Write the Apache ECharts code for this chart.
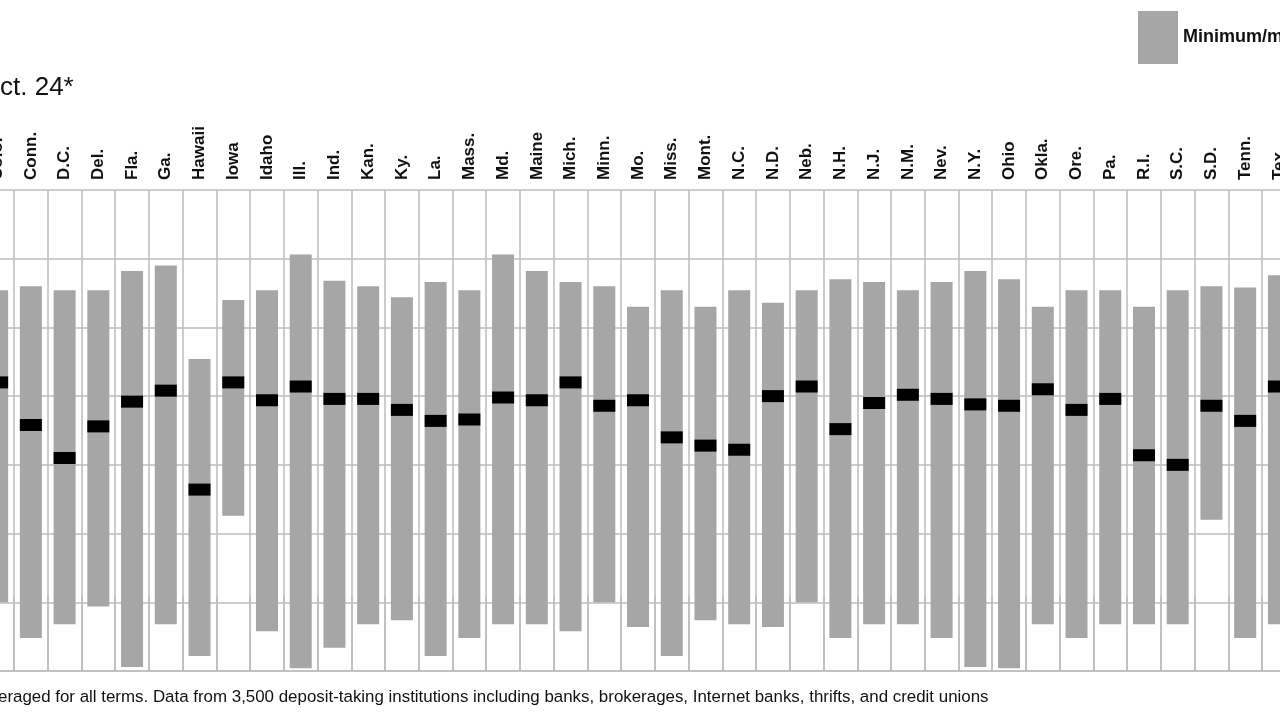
<!DOCTYPE html>
<html>
<head>
<meta charset="utf-8">
<script src="https://cdn.jsdelivr.net/npm/echarts@6/dist/echarts.min.js"></script>
<style>
html,body{margin:0;padding:0;background:#fff;overflow:hidden;width:1280px;height:720px;position:relative;}
#chart{position:absolute;left:-20px;top:0;width:1316px;height:720px;}
</style>
</head>
<body>
<div id="chart"></div>
<script>
const states = ['Colo.','Conn.','D.C.','Del.','Fla.','Ga.','Hawaii','Iowa','Idaho','Ill.','Ind.','Kan.','Ky.','La.','Mass.','Md.','Maine','Mich.','Minn.','Mo.','Miss.','Mont.','N.C.','N.D.','Neb.','N.H.','N.J.','N.M.','Nev.','N.Y.','Ohio','Okla.','Ore.','Pa.','R.I.','S.C.','S.D.','Tenn.','Tex.'];
const minRates = [0.50,0.24,0.34,0.47,0.03,0.34,0.11,1.13,0.29,0.02,0.17,0.34,0.37,0.11,0.24,0.34,0.34,0.29,0.50,0.32,0.11,0.37,0.34,0.32,0.50,0.24,0.34,0.34,0.24,0.03,0.02,0.34,0.24,0.34,0.34,0.34,1.10,0.24,0.34];
const maxRates = [2.77,2.80,2.77,2.77,2.91,2.95,2.27,2.70,2.77,3.03,2.84,2.80,2.72,2.83,2.77,3.03,2.91,2.83,2.80,2.65,2.77,2.65,2.77,2.68,2.77,2.85,2.83,2.77,2.83,2.91,2.85,2.65,2.77,2.77,2.65,2.77,2.80,2.79,2.88];
const avgRates = [2.10,1.79,1.55,1.78,1.96,2.04,1.32,2.10,1.97,2.07,1.98,1.98,1.90,1.82,1.83,1.99,1.97,2.10,1.93,1.97,1.70,1.64,1.61,2.00,2.07,1.76,1.95,2.01,1.98,1.94,1.93,2.05,1.90,1.98,1.57,1.50,1.93,1.82,2.07];
const yTicks = {min: 0, max: 3.5, interval: 0.5};
const titleText = 'ct. 24*';
const legendText = 'Minimum/maximum';
const noteText = 'eraged for all terms. Data from 3,500 deposit-taking institutions including banks, brokerages, Internet banks, thrifts, and credit unions';

const GRAY = '#a6a6a6';
const LINE = '#bdbdbd';
const FONT = '"Liberation Sans Narrow", "Liberation Sans", Arial, sans-serif';

const chart = echarts.init(document.getElementById('chart'), null, {renderer: 'canvas'});
const option = {
  animation: false,
  backgroundColor: '#ffffff',
  title: [
    {text: titleText, left: 20, top: 75, padding: 0, textStyle: {fontFamily: FONT, fontSize: 26, fontWeight: 'normal', color: '#111'}},
    {text: noteText, left: 18, top: 689, padding: 0, textStyle: {fontFamily: FONT, fontSize: 16.9, fontWeight: 'normal', color: '#111'}}
  ],
  legend: {
    data: [legendText], left: 1158, top: 11, padding: 0, icon: 'rect', itemWidth: 40, itemHeight: 53, itemGap: 10,
    textStyle: {fontFamily: FONT, fontSize: 18, fontWeight: 'bold', color: '#111'},
    selectedMode: false
  },
  grid: {left: 0.27, right: 0.23, top: 190, bottom: 49, containLabel: false},
  xAxis: {
    type: 'category', data: states, position: 'top', boundaryGap: true,
    axisLine: {show: true, lineStyle: {color: LINE, width: 1.5}},
    axisTick: {show: true, interval: 0, length: 75, lineStyle: {color: LINE, width: 1.5}},
    axisLabel: {interval: 0, rotate: 90, margin: 10, fontFamily: FONT, fontSize: 17, fontWeight: 'bold', color: '#111'},
    splitLine: {show: true, interval: 0, lineStyle: {color: LINE, width: 1.5}}
  },
  yAxis: {
    type: 'value', min: yTicks.min, max: yTicks.max, interval: yTicks.interval,
    axisLabel: {show: false}, axisLine: {show: false}, axisTick: {show: false},
    splitLine: {show: true, lineStyle: {color: LINE, width: 1.5}}
  },
  series: [
    {name: 'base', type: 'bar', stack: 'r', barWidth: 22, silent: true,
     itemStyle: {color: 'transparent'}, data: minRates},
    {name: legendText, type: 'bar', stack: 'r', barWidth: 22,
     itemStyle: {color: GRAY}, data: maxRates.map((v, i) => +(v - minRates[i]).toFixed(2))},
    {name: 'Average', type: 'scatter', symbol: 'rect', symbolSize: [22, 12],
     itemStyle: {color: '#000', opacity: 1}, data: avgRates, z: 5}
  ]
};
chart.setOption(option);
</script>
</body>
</html>
